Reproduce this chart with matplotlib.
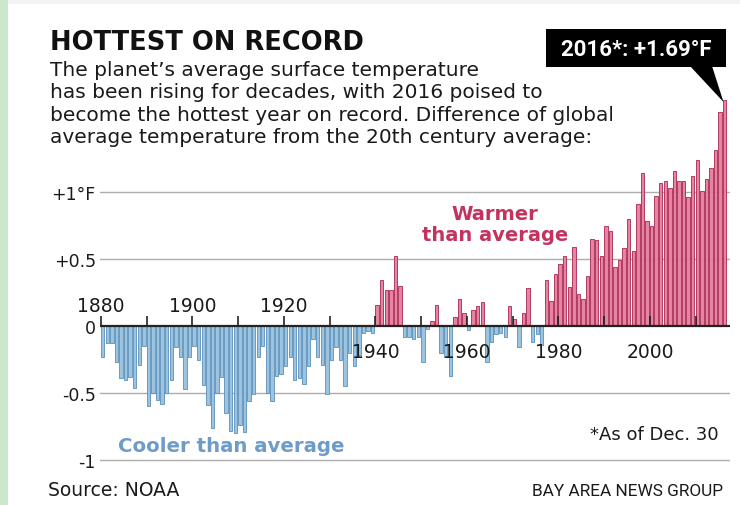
import numpy as np
import matplotlib
matplotlib.use("Agg")
import matplotlib.pyplot as plt
from matplotlib.patches import Rectangle, Polygon

# Global temperature anomaly vs. 20th-century average, degrees F, 1880-2016
years = list(range(1880, 2017))
anomaly_f = [
    -0.23, -0.13, -0.13, -0.27, -0.39, -0.40, -0.38, -0.46, -0.29, -0.15,  # 1880s
    -0.60, -0.50, -0.55, -0.58, -0.50, -0.40, -0.16, -0.23, -0.47, -0.23,  # 1890s
    -0.15, -0.25, -0.44, -0.59, -0.76, -0.50, -0.38, -0.65, -0.78, -0.80,  # 1900s
    -0.74, -0.79, -0.56, -0.51, -0.23, -0.15, -0.50, -0.56, -0.37, -0.36,  # 1910s
    -0.30, -0.23, -0.40, -0.39, -0.43, -0.30, -0.10, -0.23, -0.29, -0.51,  # 1920s
    -0.25, -0.16, -0.25, -0.45, -0.20, -0.30, -0.22, -0.05, -0.04, -0.05,  # 1930s
    0.16, 0.34, 0.27, 0.27, 0.52, 0.30, -0.08, -0.08, -0.10, -0.08,        # 1940s
    -0.27, -0.02, 0.04, 0.16, -0.20, -0.23, -0.37, 0.07, 0.20, 0.10,       # 1950s
    -0.03, 0.12, 0.15, 0.18, -0.27, -0.12, -0.06, -0.05, -0.08, 0.15,      # 1960s
    0.05, -0.16, 0.10, 0.28, -0.12, -0.06, -0.14, 0.34, 0.19, 0.39,        # 1970s
    0.46, 0.52, 0.29, 0.59, 0.24, 0.20, 0.37, 0.65, 0.64, 0.52,            # 1980s
    0.75, 0.71, 0.44, 0.49, 0.58, 0.80, 0.56, 0.91, 1.14, 0.78,            # 1990s
    0.75, 0.97, 1.07, 1.08, 1.03, 1.16, 1.08, 1.08, 0.96, 1.12,            # 2000s
    1.24, 1.01, 1.10, 1.18, 1.31, 1.60, 1.69,                              # 2010s
]
ytick_vals = [1, 0.5, 0, -0.5, -1]
ytick_labels = ["+1°F", "+0.5", "0", "-0.5", "-1"]
decade_ticks = list(range(1880, 2020, 10))
upper_year_labels = [1880, 1900, 1920]
lower_year_labels = [1940, 1960, 1980, 2000]

W, H = 740, 506
BODY = "DejaVu Sans"
NARROW = "Roboto"
WARM_FILL, WARM_EDGE = "#e684a2", "#a8264f"
COOL_FILL, COOL_EDGE = "#9cc4e0", "#5b8fbb"
WARM_TEXT, COOL_TEXT = "#c4325e", "#6d9cc8"
INK = "#1a1a1a"

fig = plt.figure(figsize=(W / 100, H / 100), dpi=100)
fig.patch.set_facecolor("white")


def fx(px):
    return px / W


def fy(py):
    return 1 - py / H


# page decoration
fig.patches.append(Rectangle((0, 0), fx(8), 1, transform=fig.transFigure,
                             facecolor="#cbe7cc", edgecolor="none"))
fig.patches.append(Rectangle((fx(8), fy(5)), 1, fy(0) - fy(5), transform=fig.transFigure,
                             facecolor="#f3f3f3", edgecolor="none"))

# chart axes: x in years, y in degrees F
ax_left, ax_right, ax_top, ax_bottom = 100, 730, 90, 470
ax = fig.add_axes([fx(ax_left), fy(ax_bottom), fx(ax_right - ax_left), fy(ax_top) - fy(ax_bottom)])
px_per_year = 4.574
px_per_deg = 134.0
zero_px = 327
x0 = 1880 - 1 / px_per_year
ax.set_xlim(x0, x0 + (ax_right - ax_left) / px_per_year)
ax.set_ylim((zero_px - ax_bottom) / px_per_deg, (zero_px - ax_top) / px_per_deg)
ax.patch.set_alpha(0)
for s in ax.spines.values():
    s.set_visible(False)
ax.set_xticks([])
ax.set_yticks(ytick_vals)
ax.set_yticklabels(ytick_labels, fontsize=12.5, family=BODY, color=INK)
ax.tick_params(axis="y", length=0, pad=3)

for v in ytick_vals:
    if v != 0:
        ax.axhline(v, color="#adadad", lw=1.0, zorder=1)

vals = np.array(anomaly_f)
colors = [WARM_FILL if v > 0 else COOL_FILL for v in vals]
edges = [WARM_EDGE if v > 0 else COOL_EDGE for v in vals]
ax.bar(years, vals, width=0.74, align="edge", color=colors, edgecolor=edges,
       linewidth=0.6, zorder=2)

ax.axhline(0, color="#222222", lw=1.6, zorder=3)
ax.vlines(decade_ticks, 0, 10 / px_per_deg, color="#222222", lw=1.2, zorder=3)

for yr in upper_year_labels:
    ax.text(yr, 15 / px_per_deg, str(yr), ha="center", va="baseline",
            fontsize=13.5, family=BODY, color=INK, zorder=4)
for yr in lower_year_labels:
    ax.text(yr, -31 / px_per_deg, str(yr), ha="center", va="baseline",
            fontsize=13.5, family=BODY, color=INK, zorder=4)

ax.text(1966.1, (zero_px - 220) / px_per_deg, "Warmer", ha="center", va="baseline",
        fontsize=14, fontweight="bold", family=BODY, color=WARM_TEXT, zorder=4)
ax.text(1966.1, (zero_px - 241) / px_per_deg, "than average", ha="center", va="baseline",
        fontsize=14, fontweight="bold", family=BODY, color=WARM_TEXT, zorder=4)
ax.text(1883.7, (zero_px - 452) / px_per_deg, "Cooler than average", ha="left",
        va="baseline", fontsize=14.2, fontweight="bold", family=BODY, color=COOL_TEXT, zorder=4)

# headline and intro
fig.text(fx(50), fy(50), "HOTTEST ON RECORD", ha="left", va="baseline",
         fontsize=18.5, fontweight="bold", family=BODY, color="#111111")
intro = ["The planet\u2019s average surface temperature",
         "has been rising for decades, with 2016 poised to",
         "become the hottest year on record. Difference of global",
         "average temperature from the 20th century average:"]
for i, line in enumerate(intro):
    fig.text(fx(50), fy(76 + 22.3 * i), line, ha="left", va="baseline",
             fontsize=14.5, family=BODY, color=INK)

# callout for 2016
fig.patches.append(Rectangle((fx(546), fy(68)), fx(726 - 546), fy(30) - fy(68),
                             transform=fig.transFigure, facecolor="black", edgecolor="none"))
fig.patches.append(Polygon([(fx(690), fy(67)), (fx(712), fy(67)), (fx(723.5), fy(103))],
                           closed=True, transform=fig.transFigure,
                           facecolor="black", edgecolor="none"))
fig.text(fx(636), fy(56), "2016*: +1.69°F", ha="center", va="baseline",
         fontsize=16, fontweight="bold", family=NARROW, color="white")

# notes and credits
fig.text(fx(719), fy(440), "*As of Dec. 30", ha="right", va="baseline",
         fontsize=13, family=BODY, color=INK)
fig.text(fx(48), fy(496), "Source: NOAA", ha="left", va="baseline",
         fontsize=13.5, family=BODY, color=INK)
fig.text(fx(723), fy(496), "BAY AREA NEWS GROUP", ha="right", va="baseline",
         fontsize=12.4, family=NARROW, color=INK)

fig.savefig("out.png", dpi=100, facecolor="white")
